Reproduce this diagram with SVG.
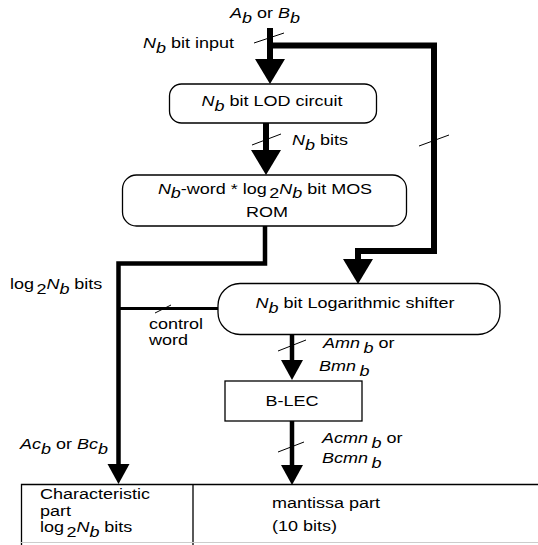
<svg xmlns="http://www.w3.org/2000/svg" width="538" height="545" viewBox="0 0 538 545">
<style>
text{font-family:"Liberation Sans",Arial,sans-serif;font-size:15px;fill:#000}
.i{font-style:italic}
.box{fill:#fff;stroke:#000;stroke-width:1.3}
.thick{fill:none;stroke:#000;stroke-width:6}
.mid{fill:none;stroke:#000;stroke-width:4.5}
.thin{fill:none;stroke:#000;stroke-width:3}
.slash{fill:none;stroke:#000;stroke-width:1}
</style>
<defs>
<marker id="big" markerUnits="userSpaceOnUse" markerWidth="26" markerHeight="30" refX="0" refY="15" orient="auto" overflow="visible"><path d="M0,0 L25,15 L0,30 z" fill="#000"/></marker>
<marker id="small" markerUnits="userSpaceOnUse" markerWidth="21" markerHeight="22" refX="0" refY="11" orient="auto" overflow="visible"><path d="M0,0 L20,11 L0,22 z" fill="#000"/></marker>
</defs>
<rect width="538" height="545" fill="#fff"/>
<g id="connectors">
<path class="thick" d="M270,28 V59" marker-end="url(#big)"/>
<path class="thick" d="M270,45.5 H434 V251 H358 V259" marker-end="url(#big)"/>
<path class="thick" d="M266,123 V150" marker-end="url(#big)"/>
<path class="mid" d="M265,226 V263.5 H118.5 V464" marker-end="url(#small)"/>
<path class="thin" d="M118.5,308.5 H218"/>
<path class="mid" d="M292,334 V360" marker-end="url(#small)"/>
<path class="mid" d="M292,421 V465" marker-end="url(#small)"/>
<line class="slash" x1="254" y1="43" x2="284" y2="33"/>
<line class="slash" x1="252" y1="145" x2="281" y2="134"/>
<line class="slash" x1="419" y1="146" x2="449" y2="135"/>
<line class="slash" x1="155" y1="313" x2="171" y2="305"/>
<line class="slash" x1="278" y1="351" x2="306" y2="340"/>
<line class="slash" x1="278" y1="452" x2="304" y2="442"/>
</g>
<g id="labels">
<text transform="translate(230 18) scale(1.2 1)"><tspan class="i">A</tspan><tspan class="i" dy="4.5">b</tspan><tspan dy="-4.5"> or </tspan><tspan class="i">B</tspan><tspan class="i" dy="4.5">b</tspan></text>
<text transform="translate(143 48) scale(1.2 1)"><tspan class="i">N</tspan><tspan class="i" dy="4.5">b</tspan><tspan dy="-4.5"> bit input</tspan></text>
<text transform="translate(292 145) scale(1.2 1)"><tspan class="i">N</tspan><tspan class="i" dy="4.5">b</tspan><tspan dy="-4.5"> bits</tspan></text>
<text transform="translate(10 289) scale(1.2 1)">log<tspan dx="2" dy="4.5">2</tspan><tspan class="i" dy="-4.5">N</tspan><tspan class="i" dy="4.5">b</tspan><tspan dy="-4.5"> bits</tspan></text>
<text transform="translate(149 329) scale(1.2 1)">control</text>
<text transform="translate(149 345) scale(1.2 1)">word</text>
<text transform="translate(323 348) scale(1.2 1)"><tspan class="i">Amn</tspan><tspan class="i" dx="3" dy="4.5">b</tspan><tspan dy="-4.5"> or</tspan></text>
<text transform="translate(319 371) scale(1.2 1)"><tspan class="i">Bmn</tspan><tspan class="i" dx="3" dy="4.5">b</tspan></text>
<text transform="translate(322 443) scale(1.2 1)"><tspan class="i">Acmn</tspan><tspan class="i" dx="3" dy="4.5">b</tspan><tspan dy="-4.5"> or</tspan></text>
<text transform="translate(322 463) scale(1.2 1)"><tspan class="i">Bcmn</tspan><tspan class="i" dx="3" dy="4.5">b</tspan></text>
<text transform="translate(20 449) scale(1.2 1)"><tspan class="i">Ac</tspan><tspan class="i" dy="4.5">b</tspan><tspan dy="-4.5"> or </tspan><tspan class="i">Bc</tspan><tspan class="i" dy="4.5">b</tspan></text>
</g>
<g id="lod">
<rect class="box" x="169.5" y="84" width="207" height="39" rx="12"/>
<text transform="translate(272 106) scale(1.2 1)" text-anchor="middle"><tspan class="i">N</tspan><tspan class="i" dy="4.5">b</tspan><tspan dy="-4.5"> bit LOD circuit</tspan></text>
</g>
<g id="rom">
<rect class="box" x="122.5" y="175" width="284" height="51" rx="14"/>
<text transform="translate(265 194) scale(1.2 1)" text-anchor="middle"><tspan class="i">N</tspan><tspan class="i" dy="4">b</tspan><tspan dy="-4">-word * log</tspan><tspan dx="2" dy="4">2</tspan><tspan class="i" dy="-4">N</tspan><tspan class="i" dy="4">b</tspan><tspan dy="-4"> bit MOS</tspan></text>
<text transform="translate(267 217) scale(1.2 1)" text-anchor="middle">ROM</text>
</g>
<g id="shifter">
<rect class="box" x="218" y="283.5" width="282" height="51" rx="22"/>
<text transform="translate(355 308) scale(1.2 1)" text-anchor="middle"><tspan class="i">N</tspan><tspan class="i" dy="4.5">b</tspan><tspan dy="-4.5"> bit Logarithmic shifter</tspan></text>
</g>
<g id="blec">
<rect class="box" x="225" y="381" width="137" height="40"/>
<text transform="translate(292 406) scale(1.2 1)" text-anchor="middle">B-LEC</text>
</g>
<g id="result">
<path d="M21.5,545 V484.5 H545 M193,484.5 V545" fill="none" stroke="#000" stroke-width="1.3"/>
<line x1="21" y1="542.5" x2="538" y2="542.5" stroke="#ccc" stroke-width="1"/>
<text transform="translate(40 499) scale(1.2 1)">Characteristic</text>
<text transform="translate(40 516) scale(1.2 1)">part</text>
<text transform="translate(40 532) scale(1.2 1)">log<tspan dx="2" dy="4.5">2</tspan><tspan class="i" dy="-4.5">N</tspan><tspan class="i" dy="4.5">b</tspan><tspan dy="-4.5"> bits</tspan></text>
<text transform="translate(272 508) scale(1.2 1)">mantissa part</text>
<text transform="translate(272 531) scale(1.2 1)">(10 bits)</text>
</g>
</svg>
